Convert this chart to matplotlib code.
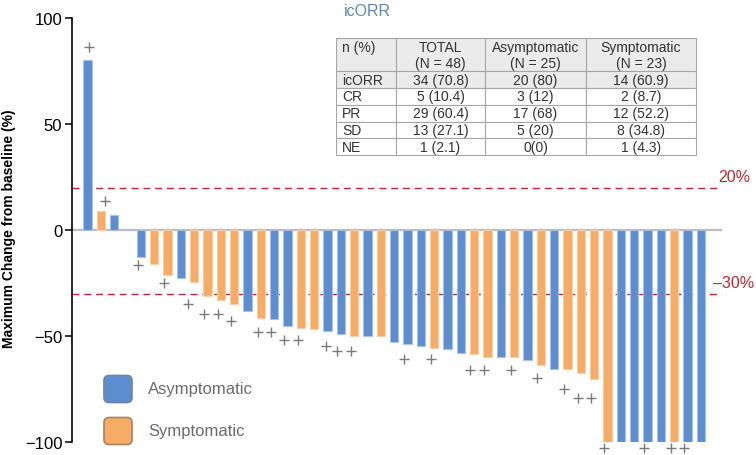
import matplotlib
matplotlib.use('Agg')
import matplotlib.pyplot as plt
from matplotlib.patches import FancyBboxPatch, BoxStyle
import matplotlib.transforms as mtransforms
import numpy as np

plt.rcParams['font.family'] = ['Liberation Sans', 'DejaVu Sans']

# Maximum change from baseline per patient (sorted waterfall), NE patient not shown
change = [80, 9, 7, 0, -12.5, -16, -21.4, -22.7, -24.7, -31.3, -33, -34.9,
          -38.3, -41.5, -41.9, -45.4, -46.2, -46.9, -47.6, -49, -49.8, -49.8, -49.8,
          -53, -54, -54.5, -55.6, -56.3, -57.9, -58.4, -59.8, -60, -60, -61.3,
          -63.7, -65.5, -65.8, -67.5, -70.3,
          -100, -100, -100, -100, -100, -100, -100, -100]
# A = asymptomatic, S = symptomatic
group = ['A', 'S', 'A', 'A', 'A', 'S', 'S', 'A', 'S', 'S', 'S', 'S',
         'A', 'S', 'A', 'A', 'S', 'S', 'A', 'A', 'S', 'A', 'S',
         'A', 'A', 'A', 'S', 'A', 'A', 'S', 'S', 'A', 'S', 'A',
         'S', 'A', 'S', 'S', 'S',
         'S', 'A', 'A', 'A', 'A', 'S', 'A', 'A']

# "+" marks (bar slot, value)
plus_x = [1.14, 2.31, 4.76, 6.76, 8.51, 9.76, 10.76, 11.76, 13.76, 14.76, 15.76,
          16.76, 18.86, 19.74, 20.74, 24.74, 26.74, 29.7, 30.76, 32.76, 34.7,
          36.7, 37.76, 38.76, 39.76, 42.76, 44.76, 45.7]
plus_y = [86.5, 13.6, -16.4, -25.2, -34.7, -39.4, -39.4, -43, -48, -48, -52.1,
          -52.1, -54.8, -57.1, -57.1, -61, -61, -65.9, -65.9, -65.9, -69.8,
          -75, -79.2, -79.2, -102.7, -102.7, -102.7, -102.7]

ref_lines = [20, -30]
ref_labels = ['20%', '\u201330%']

legend_labels = ['Asymptomatic', 'Symptomatic']

table_header = ['n (%)\n ', 'TOTAL\n(N = 48)', 'Asymptomatic\n(N = 25)', 'Symptomatic\n(N = 23)']
table_rows = ['icORR', 'CR', 'PR', 'SD', 'NE']
total_col = ['34 (70.8)', '5 (10.4)', '29 (60.4)', '13 (27.1)', '1 (2.1)']
asym_col = ['20 (80)', '3 (12)', '17 (68)', '5 (20)', '0(0)']
sym_col = ['14 (60.9)', '2 (8.7)', '12 (52.2)', '8 (34.8)', '1 (4.3)']

BLUE = '#5D8DCF'
ORANGE = '#F6AC66'
BLUE_EDGE = '#A7C2E8'
ORANGE_EDGE = '#F9CFA5'
RED = '#C1272D'
GREY_TXT = '#6B6B6B'

W, H = 756, 456


def px(x, y):
    return x / W, 1 - y / H


fig = plt.figure(figsize=(W / 100, H / 100), dpi=100)
ax = fig.add_axes([72 / W, 1 - 443 / H, 650 / W, 424 / H])

xs = np.arange(1, len(change) + 1)
colors = [BLUE if g == 'A' else ORANGE for g in group]
edges = [BLUE_EDGE if g == 'A' else ORANGE_EDGE for g in group]
ax.bar(xs, change, width=0.62, color=colors, edgecolor=edges, linewidth=0.8, zorder=3)

ax.axhline(0, color='#BDBDBD', lw=1.6, zorder=2)
trans = mtransforms.blended_transform_factory(ax.transAxes, ax.transData)
for v, lab, xl in zip(ref_lines, ref_labels, [0.9938, 0.986]):
    ax.axhline(v, color=RED, lw=1.0, dashes=(5, 3.5), zorder=1)
    ax.text(xl, v + 5.2, lab, transform=trans, color=RED, fontsize=11.5,
            ha='left', va='center', clip_on=False)

ax.plot(plus_x, plus_y, ls='none', marker='+', color='#7A7A7A', ms=7, mew=1,
        clip_on=False, zorder=4)

ax.set_xlim(-0.16, 48.58)
ax.set_ylim(-100, 100)
ax.set_yticks([-100, -50, 0, 50, 100])
ax.set_xticks([])
for s in ['top', 'right', 'bottom']:
    ax.spines[s].set_visible(False)
ax.spines['left'].set_linewidth(1.2)
ax.tick_params(axis='y', labelsize=12, length=5, width=1.1, pad=2)

fig.text(*px(9, 229), 'Maximum Change from baseline (%)', rotation=90,
         fontsize=10, fontweight='bold', ha='center', va='center')
fig.text(*px(367, 12), 'icORR', color='#5B87BA', fontsize=11.5, ha='center', va='center')

# summary table
cells = [list(r) for r in zip(table_rows, total_col, asym_col, sym_col)]
col_w = np.array([60, 89, 101, 110], dtype=float)
tbl = ax.table(cellText=cells, colLabels=table_header, colWidths=list(col_w / col_w.sum()),
               cellLoc='center',
               bbox=[(336 - 72) / 650, (443 - 156) / 424, (696 - 336) / 650, (156 - 39) / 424])
tbl.auto_set_font_size(False)
for (r, c), cell in tbl.get_celld().items():
    cell.set_edgecolor('#A6A6A6')
    cell.set_linewidth(0.8)
    cell.set_height(2 if r == 0 else 1)
    cell.set_facecolor('#EBEBEB' if r <= 1 else 'white')
    cell.get_text().set_fontsize(10)
    cell.get_text().set_color('#333333')
    if c == 0:
        cell.set_text_props(ha='left')
        cell.PAD = 0.1

# legend
for lab, col, edge, yc in zip(legend_labels, [BLUE, ORANGE], ['#6F83A3', '#A88062'], [390, 432]):
    x0, y0 = px(104, yc + 13.5)
    box = FancyBboxPatch((x0, y0), 28 / W, 27 / H,
                         boxstyle=BoxStyle('Round', pad=0, rounding_size=5 / W),
                         mutation_aspect=W / H, transform=fig.transFigure,
                         facecolor=col, edgecolor=edge, linewidth=1.2)
    fig.add_artist(box)
    fig.text(*px(148, yc), lab, fontsize=12, color=GREY_TXT, ha='left', va='center')

fig.savefig('out.png', dpi=100)
